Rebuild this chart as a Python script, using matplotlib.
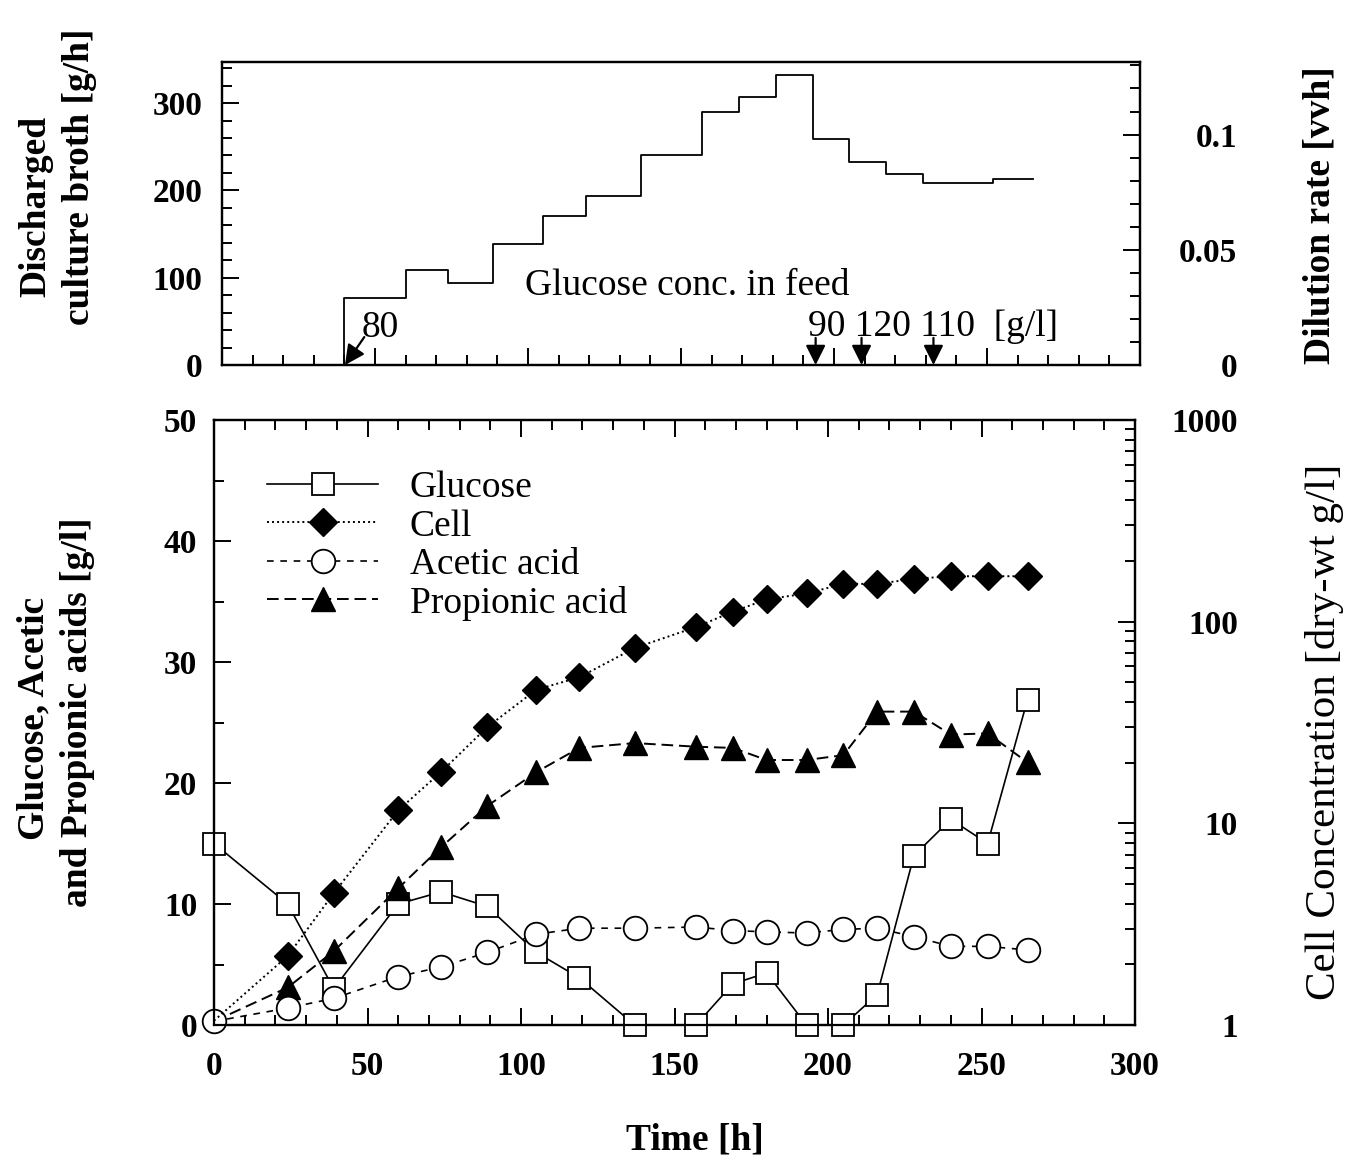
import matplotlib.pyplot as plt
from matplotlib.ticker import MultipleLocator, LogLocator, NullFormatter

plt.rcParams['font.family'] = 'serif'
plt.rcParams['font.serif'] = ['Liberation Serif', 'DejaVu Serif']

# discharged culture broth (step profile), h and g/h
feed_t = [40, 40, 60, 74, 88.5, 105, 119, 137, 157, 169, 181, 193, 205, 217, 229, 252, 265]
feed_rate = [0, 77, 109, 94, 139, 171, 193, 240, 290, 307, 332, 259, 232, 219, 208, 213, 213]

# feed glucose concentration changes
feed_change_t = [40.2, 194, 209, 232.5]

# batch samples
time_h = [0, 24, 39, 60, 74, 89, 105, 119, 137, 157, 169, 180, 193, 205, 216, 228, 240, 252, 265]
glucose = [15, 10, 3, 10, 11, 9.8, 6, 3.9, 0, 0, 3.4, 4.3, 0, 0, 2.5, 14, 17, 15, 26.9]
acetic = [0.3, 1.4, 2.2, 4.0, 4.8, 6.0, 7.5, 8.0, 8.0, 8.1, 7.8, 7.7, 7.6, 7.9, 8.0, 7.3, 6.5, 6.5, 6.2]
propionic = [0.3, 3.1, 6.1, 11.3, 14.7, 18.1, 20.9, 22.9, 23.3, 23.0, 22.9, 21.9, 21.9, 22.3, 25.9, 25.9, 24.0, 24.1, 21.7]
cell = [1.05, 2.2, 4.5, 11.6, 18, 30, 46, 53, 74, 94, 112, 129, 138, 154, 154, 163, 168, 168, 168]

W, H = 1346, 1163
fig = plt.figure(figsize=(W / 100, H / 100), dpi=100)

TICK_SIZE = 24


def style_ticks(ax):
    ax.tick_params(which='both', direction='in', width=1.4, labelsize=TICK_SIZE)
    ax.tick_params(which='major', length=12)
    ax.tick_params(which='minor', length=7)
    for lbl in ax.get_xticklabels() + ax.get_yticklabels():
        lbl.set_fontweight('bold')
    for s in ax.spines.values():
        s.set_linewidth(1.6)


arrow_kw = dict(arrowstyle='-|>', color='k', lw=1.6, mutation_scale=30,
                shrinkA=0, shrinkB=0)

# ---------------- top panel ----------------
ax1 = fig.add_axes([222 / W, 1 - 365 / H, 918 / W, 303 / H])
ax1.step(feed_t, feed_rate, where='post', color='k', lw=1.3)
ax1.set_xlim(0, 300)
ax1.set_ylim(0, 347)
ax1.xaxis.set_major_locator(MultipleLocator(50))
ax1.xaxis.set_minor_locator(MultipleLocator(10))
ax1.yaxis.set_major_locator(MultipleLocator(100))
ax1.yaxis.set_minor_locator(MultipleLocator(20))
ax1.tick_params(axis='x', which='both', labelbottom=False, top=False)
ax1.tick_params(axis='y', pad=14)
style_ticks(ax1)

ax1r = ax1.twinx()
ax1r.xaxis.set_visible(False)
ax1r.set_ylim(0, 0.1315)
ax1r.set_yticks([0, 0.05, 0.1], ['0', '0.05', '0.1'])
ax1r.yaxis.set_minor_locator(MultipleLocator(0.01))
style_ticks(ax1r)
ax1r.tick_params(axis='y', pad=70)
for lbl in ax1r.get_yticklabels():
    lbl.set_ha('right')

ax1.text(99, 80, 'Glucose conc. in feed', fontsize=27, va='baseline')
ax1.text(45.5, 32, '80', fontsize=27, va='baseline')
ax1.text(191.5, 33, '90 120 110  [g/l]', fontsize=27, va='baseline')
ax1.annotate('', xy=(feed_change_t[0], 0), xytext=(46.5, 32), arrowprops=arrow_kw)
for t in feed_change_t[1:]:
    ax1.annotate('', xy=(t, 0), xytext=(t, 31), arrowprops=arrow_kw)

# ---------------- bottom panel ----------------
ax = fig.add_axes([214 / W, 1 - 1025 / H, 921 / W, 605 / H])
ax.plot(time_h, glucose, color='k', lw=1.2, ls='-', marker='s', ms=16,
        mfc='white', mec='k', mew=1.3, clip_on=False, zorder=3)
ax.plot(time_h, propionic, color='k', lw=1.4, dashes=(6, 3), marker='^', ms=17,
        mfc='k', mec='k', markevery=list(range(1, len(time_h))), clip_on=False, zorder=4)
ax.plot(time_h, acetic, color='k', lw=1.2, dashes=(4, 4), marker='o', ms=17,
        mfc='white', mec='k', mew=1.3, clip_on=False, zorder=5)
ax.set_xlim(0, 300)
ax.set_ylim(0, 50)
ax.xaxis.set_major_locator(MultipleLocator(50))
ax.xaxis.set_minor_locator(MultipleLocator(10))
ax.yaxis.set_major_locator(MultipleLocator(10))
ax.yaxis.set_minor_locator(MultipleLocator(5))
ax.tick_params(axis='x', which='both', top=True, pad=19)
ax.tick_params(axis='y', pad=12)
style_ticks(ax)

axr = ax.twinx()
axr.set_yscale('log')
axr.set_ylim(1, 1000)
axr.plot(time_h, cell, color='k', lw=1.4, dashes=(1, 1.6), marker='D', ms=14,
         mfc='k', mec='k', markevery=list(range(1, len(time_h))), clip_on=False, zorder=6)
axr.set_yticks([1, 10, 100, 1000], ['1', '10', '100', '1000'])
axr.yaxis.set_minor_locator(LogLocator(base=10, subs=range(2, 10)))
axr.yaxis.set_minor_formatter(NullFormatter())
style_ticks(axr)
axr.tick_params(axis='y', pad=74)
for lbl in axr.get_yticklabels():
    lbl.set_ha('right')

# legend handles built from the same styles
h_glu, = axr.plot([], [], color='k', lw=1.2, ls='-', marker='s', ms=16, mfc='white', mec='k', mew=1.3)
h_cell, = axr.plot([], [], color='k', lw=1.4, dashes=(1, 1.6), marker='D', ms=14, mfc='k', mec='k')
h_ace, = axr.plot([], [], color='k', lw=1.2, dashes=(4, 4), marker='o', ms=17, mfc='white', mec='k', mew=1.3)
h_pro, = axr.plot([], [], color='k', lw=1.4, dashes=(6, 3), marker='^', ms=17, mfc='k', mec='k')
axr.legend([h_glu, h_cell, h_ace, h_pro], ['Glucose', 'Cell', 'Acetic acid', 'Propionic acid'],
           loc='upper left', bbox_to_anchor=(0.058, 0.916), frameon=False, numpoints=1,
           handlelength=2.95, handletextpad=0.85, labelspacing=0.1, fontsize=27,
           borderaxespad=0, borderpad=0)

# ---------------- axis labels ----------------
lab = dict(fontsize=27, fontweight='bold', rotation=90, ha='center', va='center')
fig.text(36 / W, 1 - 206 / H, 'Discharged', **lab)
fig.text(80 / W, 1 - 177 / H, 'culture broth [g/h]', **lab)
fig.text(1320 / W, 1 - 215 / H, 'Dilution rate [vvh]', **lab)
fig.text(34 / W, 1 - 718 / H, 'Glucose, Acetic', **lab)
fig.text(78 / W, 1 - 712 / H, 'and Propionic acids [g/l]', **lab)
fig.text(1324 / W, 1 - 732 / H, 'Cell Concentration [dry-wt g/l]', fontsize=31,
         rotation=90, ha='center', va='center')
fig.text(695 / W, 1 - 1140 / H, 'Time [h]', fontsize=27, fontweight='bold',
         ha='center', va='center')

fig.savefig('out.png', dpi=100)
